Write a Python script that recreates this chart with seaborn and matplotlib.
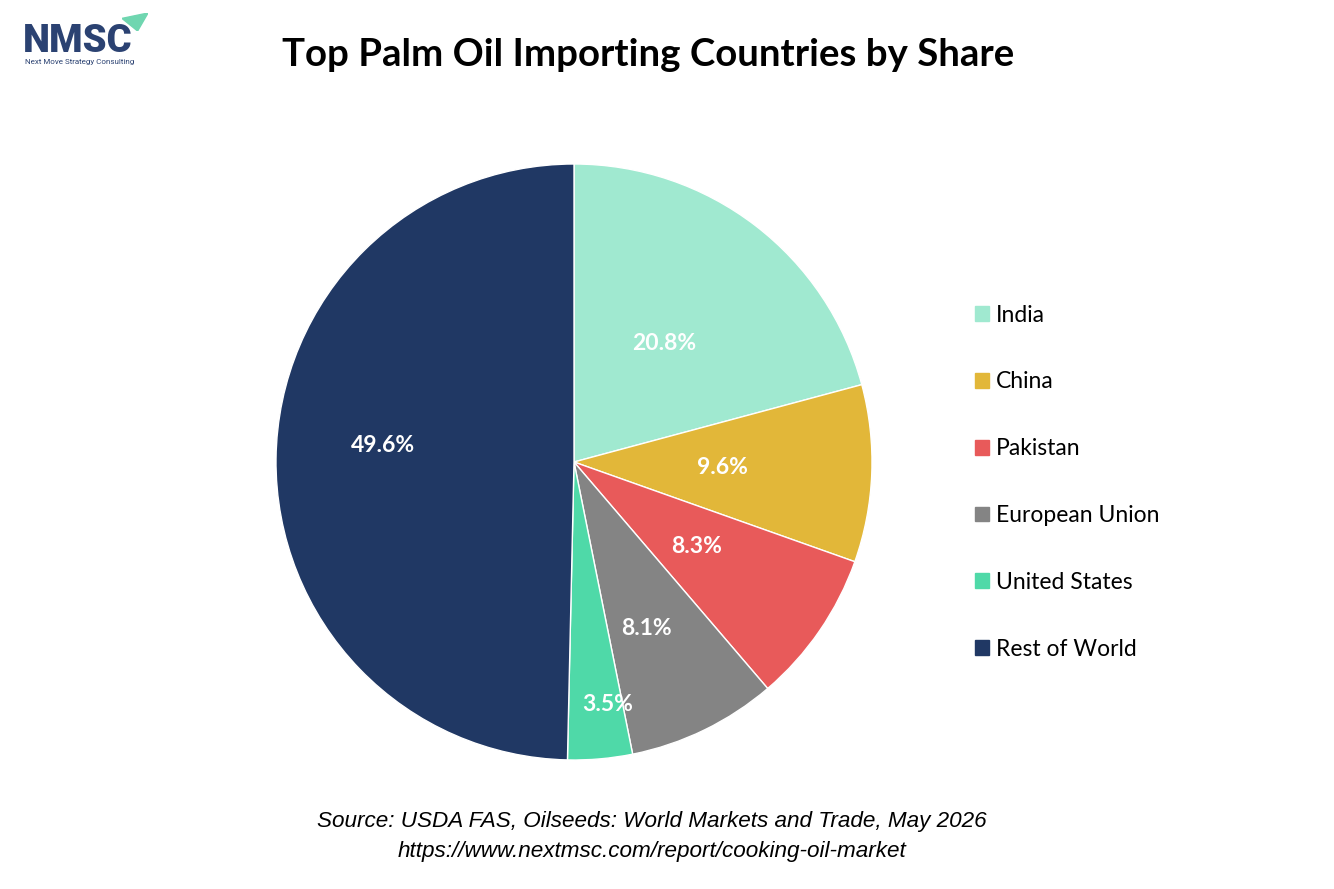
import numpy as np
import matplotlib
matplotlib.use("Agg")
import matplotlib.pyplot as plt
import seaborn as sns

# data
countries = ["India", "China", "Pakistan", "European Union", "United States", "Rest of World"]
shares = [20.8, 9.6, 8.3, 8.1, 3.5, 49.6]
colors = ["#A0E9D0", "#E2B739", "#E85A5A", "#848484", "#4FD9A8", "#203864"]
# label placement (fraction of radius, angle tweak in degrees)
label_dist = [0.5, 0.5, 0.5, 0.61, 0.82, 0.645]
label_turn = [0, 0, 0, -2.4, 2.8, -4.4]

sns.set_theme(style="white")
plt.rcParams["font.family"] = ["Lato", "DejaVu Sans"]
plt.rcParams["text.color"] = "black"
palette = sns.color_palette(colors)

W, H = 1334, 889
fig = plt.figure(figsize=(W / 100, H / 100), dpi=100)
fig.patch.set_facecolor("white")

# pie axes placed in pixel terms
cx, cy, r = 574, 462, 298
ax = fig.add_axes([(cx - r) / W, (H - cy - r) / H, 2 * r / W, 2 * r / H])
wedges, _ = ax.pie(shares, colors=palette, startangle=90, counterclock=False,
                   radius=1.0, wedgeprops=dict(edgecolor="white", linewidth=1))
ax.set_xlim(-1, 1)
ax.set_ylim(-1, 1)
ax.set_aspect("equal")
ax.axis("off")

for w, val, d, t in zip(wedges, shares, label_dist, label_turn):
    ang = np.deg2rad((w.theta1 + w.theta2) / 2 + t)
    ax.text(d * np.cos(ang), d * np.sin(ang), f"{val}%", ha="center", va="center",
            color="white", fontsize=16.5, fontweight="bold")

# legend
handles = [plt.Rectangle((0, 0), 1, 1, color=c) for c in palette]
fig.legend(handles, countries, loc="upper left", bbox_to_anchor=(954.5 / W, 1 - 284 / H),
           frameon=False, fontsize=16.5, handlelength=0.62, handleheight=0.62,
           handletextpad=0.3, labelspacing=2.0, labelcolor="black")

# title
fig.text(648 / W, 1 - 55 / H, "Top Palm Oil Importing Countries by Share",
         ha="center", va="center", fontsize=27.6, fontweight="bold", color="black")

# source
fig.text(652 / W, 1 - 822 / H, "Source: USDA FAS, Oilseeds: World Markets and Trade, May 2026",
         ha="center", va="center", fontsize=16.2, style="italic", family="Liberation Sans")
fig.text(652 / W, 1 - 852 / H, "https://www.nextmsc.com/report/cooking-oil-market",
         ha="center", va="center", fontsize=16.2, style="italic", family="Liberation Sans")

# logo
fig.text(23 / W, 1 - 42 / H, "NMSC", ha="left", va="center", fontsize=27.5,
         fontweight="heavy", color="#2B4272", family="Roboto")
fig.text(25 / W, 1 - 62 / H, "Next Move Strategy Consulting", ha="left", va="center",
         fontsize=5.8, color="#2B4272", family="Roboto")
logo_ax = fig.add_axes([122 / W, 1 - 31 / H, 26 / W, 18 / H])
logo_ax.fill([0.0, 1.0, 0.6], [0.7, 1.0, 0.0], color="#6FD6B0")
logo_ax.set_xlim(0, 1)
logo_ax.set_ylim(0, 1)
logo_ax.axis("off")

fig.savefig("out.png", dpi=100, facecolor="white")
